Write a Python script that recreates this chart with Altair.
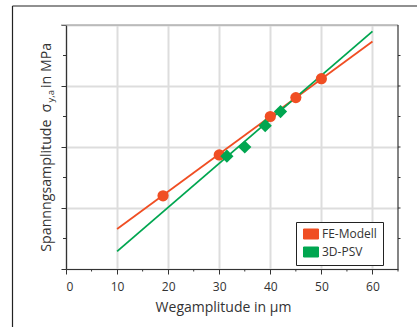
import altair as alt
import pandas as pd

# ---- data ----
series = ["FE-Modell", "3D-PSV"]
colors = ["#F04E23", "#00A650"]

fe_x = [19, 30, 40, 45, 50]
fe_y = [1.20, 1.87, 2.50, 2.81, 3.12]
psv_x = [31.5, 35, 39, 42]
psv_y = [1.85, 2.00, 2.35, 2.58]

fe_fit_x = [10, 60]
fe_fit_y = [0.656, 3.73]
psv_fit_x = [10, 60]
psv_fit_y = [0.289, 3.896]

x_ticks = [0, 10, 20, 30, 40, 50, 60]
x_minor = [5, 15, 25, 35, 45, 55, 65]
y_ticks = [0, 1, 2, 3, 4]
y_minor = [0.5, 1.5, 2.5, 3.5]
y_right = [0.5, 1, 1.5, 2, 2.5, 3, 3.5]

W, H = 332, 244
FONT = "Open Sans"
TXT = "#333333"

fe_pts = pd.DataFrame({"x": fe_x, "y": fe_y, "s": [series[0]] * len(fe_x)})
psv_pts = pd.DataFrame({"x": psv_x, "y": psv_y, "s": [series[1]] * len(psv_x)})
fits = pd.DataFrame(
    {"x": fe_fit_x + psv_fit_x,
     "y": fe_fit_y + psv_fit_y,
     "s": [series[0]] * 2 + [series[1]] * 2}
)

xs = alt.Scale(domain=[0, 65], nice=False)
ys = alt.Scale(domain=[0, 4], nice=False)
cs = alt.Scale(domain=series, range=colors)

AX = alt.Axis(
    values=x_ticks, grid=True, gridColor="#dddddd", gridWidth=2,
    tickSize=5, tickColor="#333333", domainColor="#333333", domainWidth=1.2,
    labelFont=FONT, labelFontSize=12, labelColor=TXT, labelPadding=7,
    title="Wegamplitude in µm", titleFont=FONT, titleFontSize=14,
    titleFontWeight="normal", titleColor=TXT,
    titleX=157, titleY=42, titleBaseline="alphabetic", titleAlign="center")
AY = alt.Axis(
    values=y_ticks, grid=True, gridColor="#dddddd", gridWidth=2,
    labels=False, title=None, tickSize=5, tickColor="#333333",
    domainColor="#333333", domainWidth=1.2)
LEG = alt.Legend(
    title=None, orient="none", legendX=230, legendY=197,
    strokeColor="#222222", fillColor="white", padding=6,
    symbolType="M-1.5,-1H1.5V1H-1.5Z", symbolSize=100,
    symbolStrokeColor="#333333", symbolStrokeWidth=1, symbolOffset=3,
    labelFont=FONT, labelFontSize=12, labelColor=TXT, labelOffset=5,
    rowPadding=4, labelExpr="datum.label + '\u00a0\u00a0\u00a0\u00a0\u00a0'")

def xenc():
    return alt.X("x:Q", scale=xs, axis=AX)

def yenc():
    return alt.Y("y:Q", scale=ys, axis=AY)

def cenc():
    return alt.Color("s:N", scale=cs, sort=series, legend=LEG)

lines = alt.Chart(fits).mark_line(strokeWidth=1.8).encode(
    x=xenc(), y=yenc(), color=cenc(), detail="s:N")

fe_layer = alt.Chart(fe_pts).mark_point(
    filled=True, opacity=1, size=125, shape="circle").encode(
    x=xenc(), y=yenc(), color=cenc())
psv_layer = alt.Chart(psv_pts).mark_point(
    filled=True, opacity=1, size=175, shape="diamond").encode(
    x=xenc(), y=yenc(), color=cenc())

xminor = alt.Chart(pd.DataFrame({"x": x_minor})).mark_rule(color="#333333", strokeWidth=1).encode(
    x=xenc(), y=alt.value(H), y2=alt.value(H + 2.5))
yminor = alt.Chart(pd.DataFrame({"y": y_minor})).mark_rule(color="#333333", strokeWidth=1).encode(
    y=yenc(), x=alt.value(-3), x2=alt.value(0))
yright = alt.Chart(pd.DataFrame({"y": y_right})).mark_rule(color="#333333", strokeWidth=1).encode(
    y=yenc(), x=alt.value(W), x2=alt.value(W + 2.5))
rline = alt.Chart(pd.DataFrame({"v": [0]})).mark_rule(color="#333333", strokeWidth=1.2).encode(
    x=alt.value(W), y=alt.value(0), y2=alt.value(H))
tline = alt.Chart(pd.DataFrame({"v": [0]})).mark_rule(color="#999999", strokeWidth=1.2).encode(
    y=alt.value(0), x=alt.value(-5), x2=alt.value(W))
frame_l = alt.Chart(pd.DataFrame({"v": [0]})).mark_rule(color="#222222", strokeWidth=1.2).encode(
    x=alt.value(-53.5), y=alt.value(-19), y2=alt.value(H + 80))
frame_t = alt.Chart(pd.DataFrame({"v": [0]})).mark_rule(color="#222222", strokeWidth=1.2).encode(
    y=alt.value(-19), x=alt.value(-53.5), x2=alt.value(W + 60))

tx = -15
def ytext(t, y, size=14.2, dx=0):
    return alt.Chart(pd.DataFrame({"t": [t]})).mark_text(
        angle=270, align="left", baseline="alphabetic", font=FONT,
        fontSize=size, color=TXT
    ).encode(text="t:N", x=alt.value(tx + dx), y=alt.value(y))

chart = alt.layer(
    lines, tline, rline, xminor, yminor, yright, fe_layer, psv_layer,
    frame_l, frame_t,
    ytext("Spannngsamplitude", 226.7), ytext("σ", 87.5),
    ytext("y,a", 77.5, 9.5, 3), ytext("in MPa", 63),
).properties(
    width=W, height=H,
    autosize=alt.AutoSizeParams(type="none"),
    padding={"left": 66, "top": 25, "right": 417 - 66 - W, "bottom": 327 - 25 - H},
    background="white",
).configure_view(stroke=None)

chart.save("out.html", embed_options={"renderer": "svg", "actions": False})
